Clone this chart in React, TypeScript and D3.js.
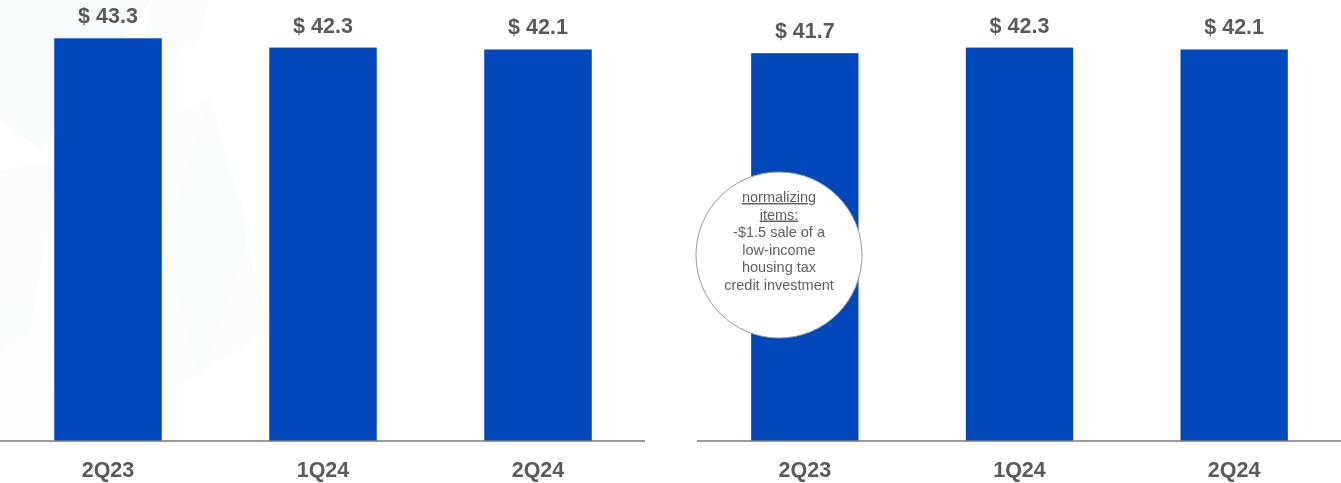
import React from "react";
import * as d3 from "d3";

const categories = ["2Q23", "1Q24", "2Q24"];
const leftValues = [43.3, 42.3, 42.1];
const rightValues = [41.7, 42.3, 42.1];
const noteLines = ["normalizing", "items:", "-$1.5 sale of a", "low-income", "housing tax", "credit investment"];
const noteUnderlined = [true, true, false, false, false, false];

const W = 1341;
const H = 483;
const baseY = 441;
const BAR = "#0047BA";
const TXT = "#595959";
const FONT = "'Liberation Sans', Arial, Helvetica, sans-serif";

const y = d3.scaleLinear().domain([0, 43.3]).range([baseY, 38.3]);

function Panel({ x0, x1, values }: { x0: number; x1: number; values: number[] }) {
  const x = d3.scaleBand<string>().domain(categories).range([x0, x1]).paddingInner(0.5).paddingOuter(0.25);
  return (
    <g>
      {categories.map((c, i) => (
        <g key={c}>
          <rect x={(x(c) as number) + 0.5} y={y(values[i])} width={x.bandwidth()} height={baseY - y(values[i])} fill={BAR} />
          <text
            x={(x(c) as number) + x.bandwidth() / 2 + 0.5}
            y={y(values[i]) - 15}
            textAnchor="middle"
            fontFamily={FONT}
            fontWeight="bold"
            fontSize={21.5}
            fill={TXT}
          >
            {`$ ${values[i].toFixed(1)}`}
          </text>
          <text
            x={(x(c) as number) + x.bandwidth() / 2 + 0.5}
            y={476.5}
            textAnchor="middle"
            fontFamily={FONT}
            fontWeight="bold"
            fontSize={21.5}
            fill={TXT}
          >
            {c}
          </text>
        </g>
      ))}
      <line x1={x0} x2={x1} y1={baseY} y2={baseY} stroke="#7a7a7a" strokeWidth={1.5} />
    </g>
  );
}

export default function App() {
  const noteBase = [202, 219.5, 237, 254.5, 272, 289.5];
  return (
    <svg width={W} height={H} style={{ display: "block", position: "absolute", left: 0, top: 0 }}>
      <rect width={W} height={H} fill="#ffffff" />
      <g fill="#eef6f6" opacity={0.45}>
        <polygon points="0,0 150,0 40,150 0,120" />
        <polygon points="60,160 210,100 270,330 120,420" opacity={0.6} />
        <polygon points="150,0 210,0 200,40 140,70" opacity={0.5} />
        <polygon points="0,170 60,160 30,330 0,350" opacity={0.6} />
        <polygon points="0,290 45,320 60,440 0,440" opacity={0.4} />
        <polygon points="210,100 250,230 200,380 165,240" opacity={0.5} />
      </g>
      <Panel x0={0} x1={645} values={leftValues} />
      <Panel x0={697} x1={1341} values={rightValues} />
      <circle cx={779} cy={255} r={83} fill="#ffffff" stroke="#9a9a9a" strokeWidth={1} />
      {noteLines.map((t, i) => (
        <text
          key={i}
          x={779}
          y={noteBase[i]}
          textAnchor="middle"
          fontFamily={FONT}
          fontSize={14.5}
          fill="#606060"
          textDecoration={noteUnderlined[i] ? "underline" : undefined}
        >
          {t}
        </text>
      ))}
    </svg>
  );
}
